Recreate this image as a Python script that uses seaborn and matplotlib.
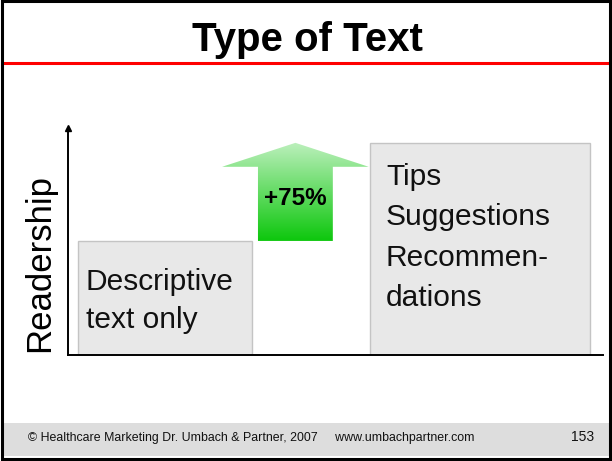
import matplotlib
matplotlib.use("Agg")
import matplotlib.pyplot as plt
from matplotlib.patches import Rectangle, Polygon
import numpy as np
import pandas as pd
import seaborn as sns

# ---- data ----
categories = ["Descriptive\ntext only", "Tips\nSuggestions\nRecommen-\ndations"]
readership = [100, 186]
gain_label = "+75%"
title = "Type of Text"
y_label = "Readership"
footer_left = "\u00a9 Healthcare Marketing Dr. Umbach & Partner, 2007     www.umbachpartner.com"
page_no = "153"

sns.set_theme(style="white")
plt.rcParams["font.family"] = ["Liberation Sans", "DejaVu Sans"]

W, H = 612, 461
fig = plt.figure(figsize=(W / 100, H / 100), dpi=100)
fig.patch.set_facecolor("white")

def fx(x):
    return x / W

def fy(y):
    return 1 - y / H

# footer band
fig.patches.append(Rectangle((fx(3), fy(456)), fx(606), (456 - 423) / H,
                             transform=fig.transFigure, facecolor="#dddddd",
                             edgecolor="none", zorder=0))
# outer border
fig.patches.append(Rectangle((fx(1.5), fy(458.5)), fx(608.5), 457 / H,
                             transform=fig.transFigure, facecolor="none",
                             edgecolor="black", linewidth=2.2, zorder=5))
# red rule
fig.add_artist(plt.Line2D([fx(2), fx(610)], [fy(63), fy(63)],
                          transform=fig.transFigure, color="#ff0000", linewidth=2.2))

fig.text(fx(307), fy(40), title, ha="center", va="center",
         fontsize=29, fontweight="bold", color="black")
fig.text(fx(28), fy(438), footer_left, ha="left", va="center", fontsize=8.9, color="#111111")
fig.text(fx(594), fy(437), page_no, ha="right", va="center", fontsize=10, color="#111111")

# ---- axes ----
ax_l, ax_r, ax_b, ax_t = 68, 603, 355, 128
ax = fig.add_axes([fx(ax_l), fy(ax_b), (ax_r - ax_l) / W, (ax_b - ax_t) / H])
ax.set_facecolor("none")

df = pd.DataFrame({"type": categories, "readership": readership})
sns.barplot(data=df, x="type", y="readership", ax=ax, width=0.6,
            color="#e8e8e8", edgecolor="#c4c4c4", linewidth=1.0, saturation=1)

# layout: per-bar widths (px-derived) and xlim
bar_widths = [0.554, 0.70]
for p, w in zip(ax.patches, bar_widths):
    c = p.get_x() + p.get_width() / 2
    p.set_x(c - w / 2)
    p.set_width(w)

ax.set_xlim(-0.309, 1.392)
ax.set_ylim(0, 199)
ax.set_xticks([])
ax.set_yticks([])
ax.set_xlabel("")
ax.set_ylabel(y_label, fontsize=25, color="black")
ax.yaxis.set_label_coords(-0.022, 0.405)
for s in ["top", "right"]:
    ax.spines[s].set_visible(False)
for s in ["left", "bottom"]:
    ax.spines[s].set_color("black")
    ax.spines[s].set_linewidth(1.4)
ax.plot([0], [1], marker="^", color="black", markersize=5,
        transform=ax.transAxes, clip_on=False)

# bar labels (layout: left offset, vertical centre, line spacing)
label_offsets = [0.024, 0.052]
label_y = [47, 103]
label_spacing = [1.45, 1.57]
for p, lab, off, yy, ls in zip(ax.patches, categories, label_offsets, label_y, label_spacing):
    ax.text(p.get_x() + off, yy, lab, ha="left", va="center",
            fontsize=21.5, linespacing=ls, color="#111111")

# gradient arrow from bar 1 level to bar 2 level
xc = 0.414
shaft_hw, head_hw, head_len = 0.119, 0.233, 21
y0, y1 = readership[0], readership[1]
verts = [(xc - shaft_hw, y0), (xc + shaft_hw, y0), (xc + shaft_hw, y1 - head_len),
         (xc + head_hw, y1 - head_len), (xc, y1), (xc - head_hw, y1 - head_len),
         (xc - shaft_hw, y1 - head_len)]
poly = Polygon(verts, closed=True, facecolor="none", edgecolor="none")
ax.add_patch(poly)
top_c = np.array([0.74, 0.94, 0.74])
bot_c = np.array([0.05, 0.78, 0.05])
t = np.linspace(0, 1, 256)[:, None]
grad = (bot_c[None, :] * (1 - t) + top_c[None, :] * t)[:, None, :]
im = ax.imshow(grad, extent=[xc - head_hw, xc + head_hw, y0, y1], origin="lower",
               aspect="auto", zorder=3)
im.set_clip_path(poly)
ax.set_xlim(-0.309, 1.392)
ax.set_ylim(0, 199)
ax.text(xc, (y0 + y1 - head_len) / 2 + 5, gain_label, ha="center", va="center",
        fontsize=17.5, fontweight="bold", color="black", zorder=4)

fig.savefig("out.png", dpi=100)
